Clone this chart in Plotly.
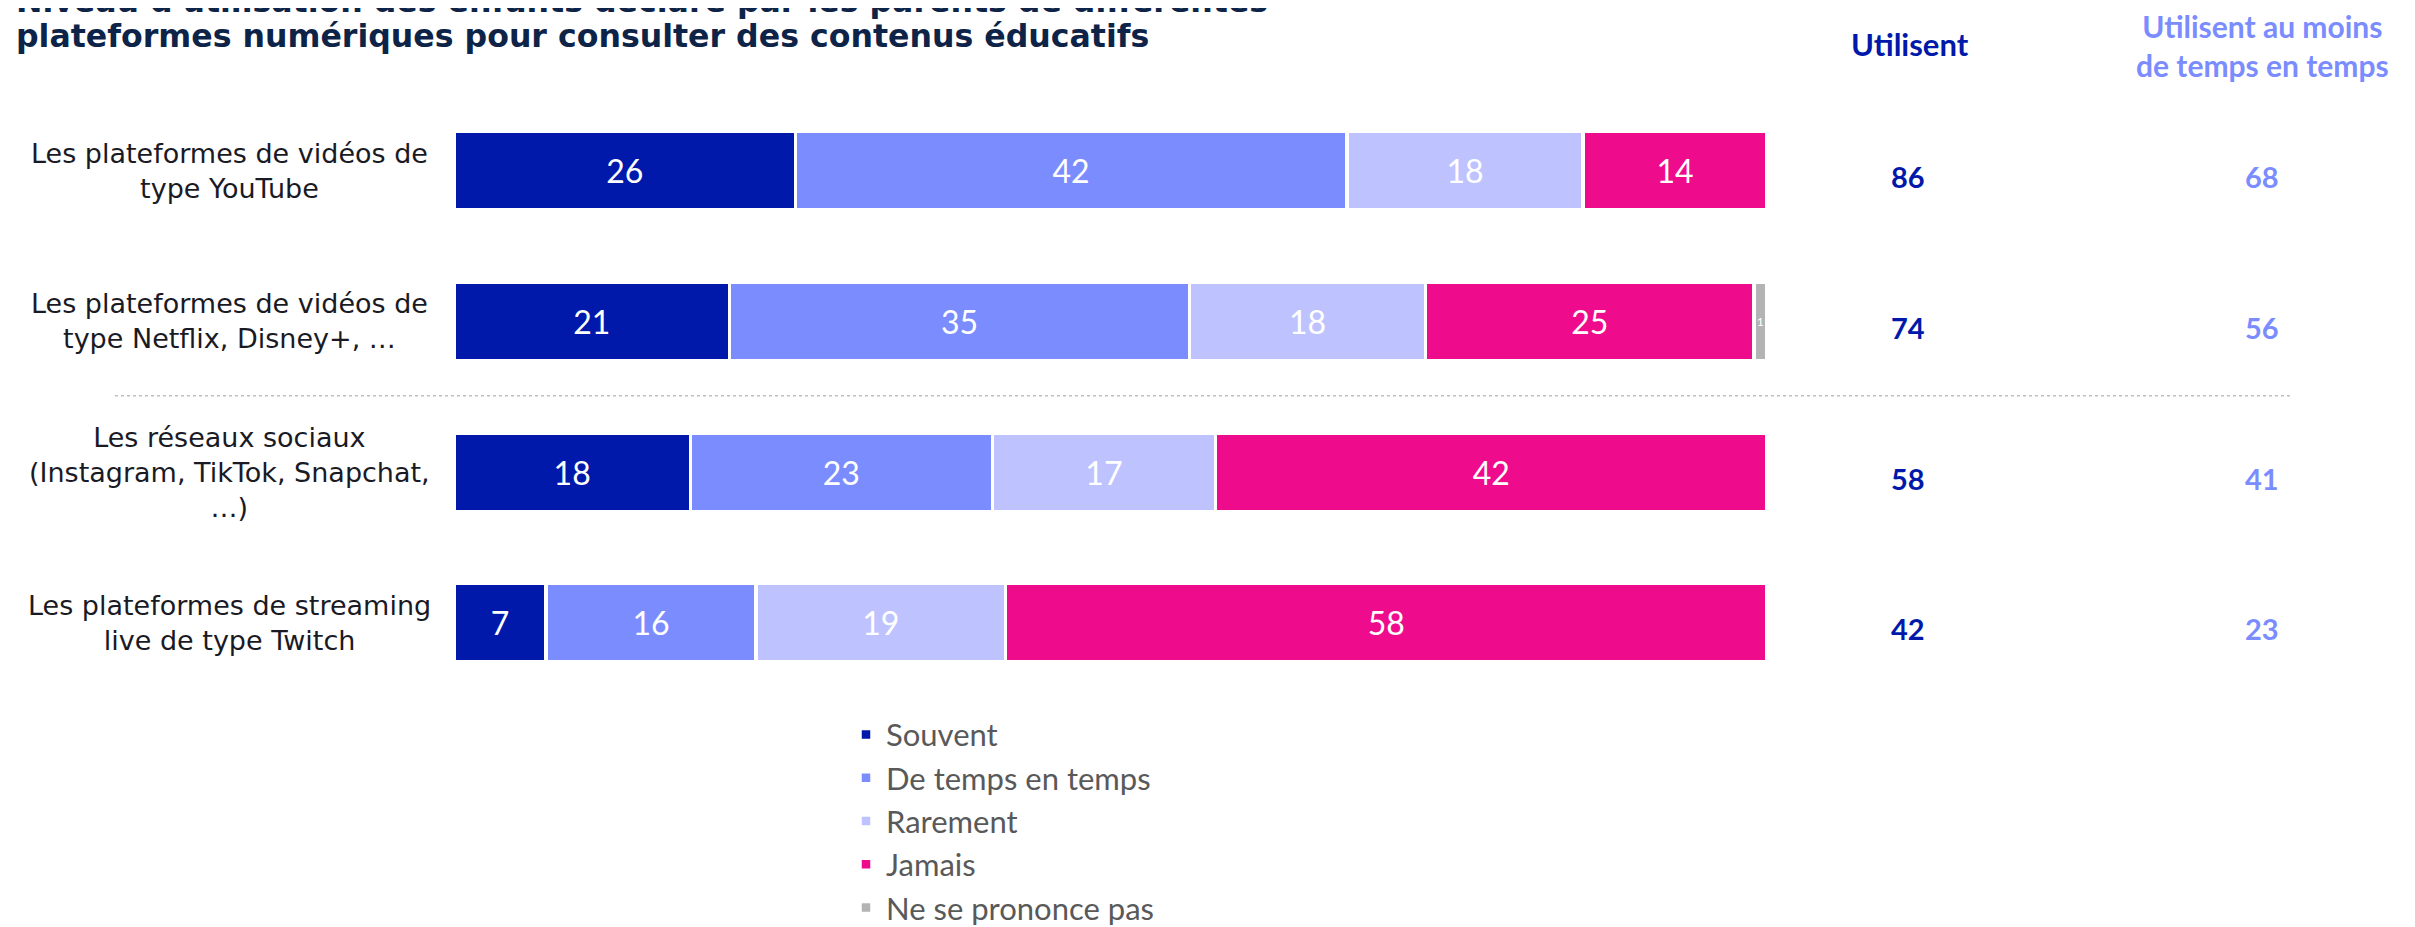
import plotly.graph_objects as go

categories = [
    "Les plateformes de vidéos de<br>type YouTube",
    "Les plateformes de vidéos de<br>type Netflix, Disney+, …",
    "Les réseaux sociaux<br>(Instagram, TikTok, Snapchat,<br>…)",
    "Les plateformes de streaming<br>live de type Twitch",
]
series_names = ["Souvent", "De temps en temps", "Rarement", "Jamais", "Ne se prononce pas"]
souvent = [26, 21, 18, 7]
de_temps = [42, 35, 23, 16]
rarement = [18, 18, 17, 19]
jamais = [14, 25, 42, 58]
nsp = [0, 1, 0, 0]
utilisent = [86, 74, 58, 42]
au_moins = [68, 56, 41, 23]
title_lines = [
    "Niveau d'utilisation des enfants déclaré par les parents de différentes",
    "plateformes numériques pour consulter des contenus éducatifs",
]

colors = ["#0019AA", "#7B8CFF", "#BEC3FF", "#EE0C8C", "#B3B3B3"]
values = [souvent, de_temps, rarement, jamais, nsp]

W, H = 2415, 927
OFF = 8  # default page margin of the html body


def px(x):
    return (x - OFF) / W


def py(y):
    return 1 - (y - OFF) / H


FONT = "Lato"
LABEL_FONT = "DejaVu Sans"

fig = go.Figure()
for name, vals, col in zip(series_names, values, colors):
    fig.add_trace(go.Bar(
        name=name, y=categories, x=vals, orientation="h",
        marker=dict(color=col, line=dict(color="white", width=3.5)),
        text=[str(v) if v else "" for v in vals],
        textposition="inside", insidetextanchor="middle",
        textfont=dict(color="white", size=32, family=FONT),
        hoverinfo="skip",
    ))

fig.update_layout(
    width=W, height=H, barmode="stack", bargap=0.48,
    margin=dict(l=0, r=0, t=0, b=0),
    plot_bgcolor="white", paper_bgcolor="white",
    font=dict(family=FONT, color="#1A1A24"),
    xaxis=dict(domain=[px(454), px(1767)], range=[0, 100], visible=False, fixedrange=True),
    yaxis=dict(domain=[py(700.5), py(95.5)], autorange="reversed", showticklabels=False,
               showgrid=False, zeroline=False),
    legend=dict(x=px(846), y=py(710), xanchor="left", yanchor="top",
                font=dict(size=31, color="#595959", family=FONT),
                traceorder="normal", itemwidth=30, bgcolor="rgba(0,0,0,0)"),
    showlegend=True,
)

# category labels
for c in categories:
    fig.add_annotation(x=px(229), xref="paper", y=c, yref="y", text=c,
                       showarrow=False, xanchor="center", yanchor="middle", align="center",
                       font=dict(size=27, color="#1A1A24", family=LABEL_FONT))

# right columns
for c, u, a in zip(categories, utilisent, au_moins):
    fig.add_annotation(x=px(1908), xref="paper", y=c, yref="y", text=f"<b>{u}</b>",
                       showarrow=False, xanchor="center", yanchor="middle", yshift=-6,
                       font=dict(size=29, color="#0019AA", family=FONT))
    fig.add_annotation(x=px(2262), xref="paper", y=c, yref="y", text=f"<b>{a}</b>",
                       showarrow=False, xanchor="center", yanchor="middle", yshift=-6,
                       font=dict(size=29, color="#7B8CFF", family=FONT))

fig.add_annotation(x=px(1910), xref="paper", y=py(44), yref="paper",
                   text="<b>Utilisent</b>", showarrow=False,
                   xanchor="center", yanchor="middle",
                   font=dict(size=31, color="#0019AA", family=FONT))
fig.add_annotation(x=px(2262), xref="paper", y=py(46), yref="paper",
                   text="<b>Utilisent au moins<br>de temps en temps</b>", showarrow=False,
                   xanchor="center", yanchor="middle",
                   font=dict(size=30, color="#7B8CFF", family=FONT))

# title: first line partly above the top edge, as in the reference
for line, yc in zip(title_lines, [1, 36]):
    fig.add_annotation(x=px(14), xref="paper", y=py(yc), yref="paper",
                       xanchor="left", yanchor="middle", align="left",
                       text=f"<b>{line}</b>", showarrow=False,
                       font=dict(size=31.6, color="#0D2448", family="DejaVu Sans"))

# dotted separator
fig.add_shape(type="line", xref="paper", x0=px(115), x1=px(2290),
              yref="paper", y0=py(397), y1=py(397),
              line=dict(color="#BFBFBF", width=1.5, dash="dot"))

fig.write_html("out.html")
